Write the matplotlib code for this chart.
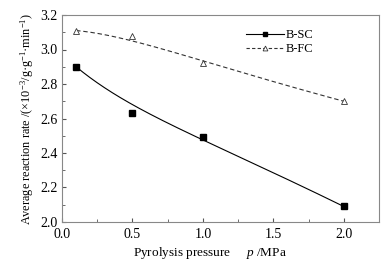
import numpy as np
import matplotlib
matplotlib.use('Agg')
import matplotlib.pyplot as plt
from matplotlib.ticker import MultipleLocator

plt.rcParams['font.family'] = ['Liberation Serif', 'DejaVu Serif']
plt.rcParams['mathtext.fontset'] = 'custom'
plt.rcParams['mathtext.rm'] = 'Liberation Serif'
plt.rcParams['mathtext.it'] = 'Liberation Serif:italic'

# data
pressure = [0.1, 0.5, 1.0, 2.0]
rate_sc = [2.90, 2.63, 2.49, 2.09]
rate_fc = [3.11, 3.08, 2.92, 2.70]


def bezier(xp, yp, n=200):
    # smooth connecting curve, data points used as control points
    t = np.linspace(0, 1, n)
    b = [(1 - t) ** 3, 3 * t * (1 - t) ** 2, 3 * t ** 2 * (1 - t), t ** 3]
    x = sum(c * v for c, v in zip(b, xp))
    y = sum(c * v for c, v in zip(b, yp))
    return x, y


fig = plt.figure(figsize=(3.87, 2.62), dpi=100)
ax = fig.add_axes([62 / 387, 40 / 262, 317 / 387, 207 / 262])

ax.plot(*bezier(pressure, rate_sc), color='black', lw=0.8)
ax.plot(*bezier(pressure, rate_fc), color='#333333', lw=0.8, ls=(0, (4, 2.5)))
ax.plot(pressure, rate_sc, 's', color='black', ms=4, ls='none')
ax.plot(pressure, rate_fc, '^', mfc='white', mec='#333333', mew=0.6, ms=4, ls='none')

# legend proxies
ax.plot([], [], '-s', color='black', lw=0.8, ms=3.5, label='B-SC')
ax.plot([], [], '^', color='#333333', ls=(0, (3, 2)), lw=0.8, mfc='white', mew=0.6, ms=3.5, label='B-FC')
handles, labels = ax.get_legend_handles_labels()
ax.legend(handles[-2:], labels[-2:], loc='upper left', bbox_to_anchor=(0.545, 0.985),
          frameon=False, fontsize=9, handlelength=3, handletextpad=0.15,
          labelspacing=0.15)

ax.set_xlim(0, 2.25)
ax.set_ylim(2.0, 3.2)
ax.xaxis.set_major_locator(MultipleLocator(0.5))
ax.xaxis.set_minor_locator(MultipleLocator(0.25))
ax.yaxis.set_major_locator(MultipleLocator(0.2))
ax.yaxis.set_minor_locator(MultipleLocator(0.1))
ax.tick_params(which='both', direction='in', labelsize=10, color='#555555')
ax.tick_params(which='major', length=3)
ax.tick_params(which='minor', length=2)
ax.tick_params(axis='x', pad=4)
ax.tick_params(axis='y', pad=3)
for s in ax.spines.values():
    s.set_color('#888888')
    s.set_linewidth(0.8)

ax.set_xlabel('Pyrolysis pressure     $p$ /MPa', fontsize=9.5)
ax.xaxis.set_label_coords(0.467, -0.113)
ax.set_ylabel('Average reaction rate /(×10$^{-3}$/g·g$^{-1}$·min$^{-1}$)', fontsize=8.8, labelpad=3)

fig.savefig('out.png', dpi=100)
